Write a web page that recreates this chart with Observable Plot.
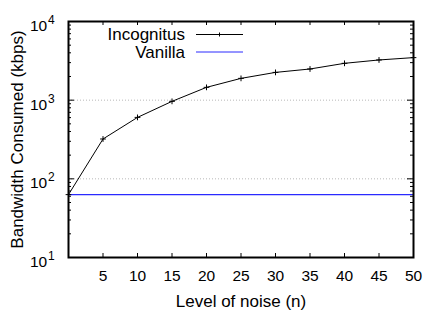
<!DOCTYPE html>
<html>
<head>
<meta charset="utf-8">
<script src="https://cdn.jsdelivr.net/npm/d3@7"></script>
<script src="https://cdn.jsdelivr.net/npm/@observablehq/plot@0.6"></script>
<style>
  html, body { margin: 0; padding: 0; background: #fff; }
  svg { font-family: "Liberation Sans", Arial, sans-serif; }
</style>
</head>
<body>
<div id="chart"></div>
<script>
const noiseLevels = [0, 5, 10, 15, 20, 25, 30, 35, 40, 45, 50];
const incognitus = [63, 321, 604, 966, 1455, 1893, 2254, 2490, 2940, 3244, 3475];
const vanilla =    [63, 63, 63, 63, 63, 63, 63, 63, 63, 63, 63];
const xTicks = [5, 10, 15, 20, 25, 30, 35, 40, 45, 50];
const yMajor = [10, 100, 1000, 10000];
const yExponents = ["1", "2", "3", "4"];
const yMinor = [20,30,40,50,60,70,80,90,200,300,400,500,600,700,800,900,2000,3000,4000,5000,6000,7000,8000,9000];
const seriesNames = ["Incognitus", "Vanilla"];
const seriesColors = ["#000000", "#2a2aff"];
const xTitle = "Level of noise (n)";
const yTitle = "Bandwidth Consumed (kbps)";

const incData = noiseLevels.map((x, i) => ({x, y: incognitus[i]}));
const vanData = noiseLevels.map((x, i) => ({x, y: vanilla[i]}));

const W = 425, H = 310, ML = 68, MT = 21, MR = 12, MB = 53;
const PW = W - ML - MR, PH = H - MT - MB;
const LABEL_FS = 17, TICK_FS = 15.5, SUP_FS = 12;
const FONT = "Liberation Sans, Arial, sans-serif";

function legend(index, scales, values, dims) {
  const g = d3.create("svg:g").attr("font-family", FONT).attr("font-size", LABEL_FS);
  const textRight = dims.marginLeft + 117;
  const lineX1 = dims.marginLeft + 128, lineX2 = dims.marginLeft + 175;
  seriesNames.forEach((name, i) => {
    const cy = dims.marginTop + 13.5 + i * 17.5;
    g.append("text").attr("x", textRight).attr("y", cy).attr("dy", "0.35em")
      .attr("text-anchor", "end").attr("fill", "#000").text(name);
    g.append("line").attr("x1", lineX1).attr("x2", lineX2).attr("y1", cy).attr("y2", cy)
      .attr("stroke", seriesColors[i]).attr("stroke-width", 1);
    if (i === 0) {
      const mx = (lineX1 + lineX2) / 2;
      g.append("path").attr("d", `M${mx-2},${cy}h4M${mx},${cy-2}v4`)
        .attr("stroke", "#000").attr("stroke-width", 1);
    }
  });
  return g.node();
}

const chart = Plot.plot({
  width: W, height: H,
  marginLeft: ML, marginTop: MT, marginRight: MR, marginBottom: MB,
  style: {fontFamily: FONT, fontSize: TICK_FS + "px", background: "#fff"},
  x: {domain: [0, 50], axis: null},
  y: {type: "log", domain: [10, 10000], axis: null},
  marks: [
    Plot.ruleY([100, 1000], {stroke: "#b8b8b8", strokeDasharray: "1,2", strokeWidth: 1}),
    Plot.line(vanData, {x: "x", y: "y", stroke: seriesColors[1], strokeWidth: 1.2}),
    Plot.line(incData, {x: "x", y: "y", stroke: seriesColors[0], strokeWidth: 1}),
    Plot.dot(incData, {x: "x", y: "y", symbol: "plus", r: 2, stroke: "#000", strokeWidth: 1}),
    // inner ticks x bottom/top
    Plot.tickX(xTicks, {x: d => d, stroke: "#000", insetTop: PH - 4}),
    Plot.tickX(xTicks, {x: d => d, stroke: "#000", insetBottom: PH - 4}),
    // inner ticks y left/right
    Plot.tickY(yMajor, {y: d => d, stroke: "#000", insetRight: PW - 6}),
    Plot.tickY(yMajor, {y: d => d, stroke: "#000", insetLeft: PW - 6}),
    Plot.tickY(yMinor, {y: d => d, stroke: "#000", insetRight: PW - 3}),
    Plot.tickY(yMinor, {y: d => d, stroke: "#000", insetLeft: PW - 3}),
    // tick labels
    Plot.text(xTicks, {x: d => d, text: d => String(d), frameAnchor: "bottom", dy: 19,
      fontSize: TICK_FS, lineAnchor: "middle", fill: "#000"}),
    Plot.text(yMajor, {y: d => d, text: () => "10", frameAnchor: "left", dx: -21.3,
      dy: 4.5, textAnchor: "end", lineAnchor: "middle", fontSize: TICK_FS, fill: "#000"}),
    Plot.text(yMajor, {y: d => d, text: (d, i) => yExponents[i], frameAnchor: "left", dx: -20.5,
      dy: -1.5, textAnchor: "start", lineAnchor: "middle", fontSize: SUP_FS, fill: "#000"}),
    // axis titles
    Plot.text([xTitle], {text: d => d, frameAnchor: "bottom", dy: 44.5, fontSize: LABEL_FS,
      lineAnchor: "middle", textAnchor: "middle", fill: "#000"}),
    Plot.text([yTitle], {text: d => d, frameAnchor: "left", dx: -50.5, rotate: -90, fontSize: LABEL_FS,
      lineAnchor: "middle", textAnchor: "middle", fill: "#000"}),
    Plot.frame({stroke: "#000", strokeWidth: 2}),
    legend
  ]
});

document.getElementById("chart").appendChild(chart);
</script>
</body>
</html>
